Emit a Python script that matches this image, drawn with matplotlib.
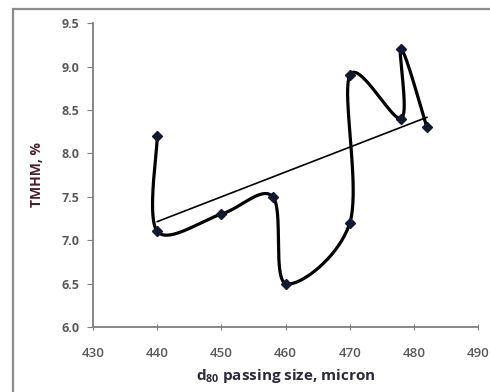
import numpy as np
import matplotlib.pyplot as plt
from matplotlib.patches import Rectangle

plt.rcParams['font.family'] = ['Open Sans', 'DejaVu Sans']
plt.rcParams['mathtext.default'] = 'regular'

# data
d80 = [440, 440, 450, 458, 460, 470, 470, 478, 478, 482]
tmhm = [8.2, 7.1, 7.3, 7.5, 6.5, 7.2, 8.9, 8.4, 9.2, 8.3]
xticks = [430, 440, 450, 460, 470, 480, 490]
yticks = [6.0, 6.5, 7.0, 7.5, 8.0, 8.5, 9.0, 9.5]

fig = plt.figure(figsize=(4.9, 3.92), dpi=100)
ax = fig.add_axes([0.19, 0.166, 0.786, 0.775])
ax.set_xlim(430, 490)
ax.set_ylim(6.0, 9.5)


def smooth(xs, ys, n=40):
    # excel-style smoothed line, bezier through points in screen space
    pts = ax.transData.transform(np.column_stack([xs, ys]))
    p = np.vstack([pts[0], pts, pts[-1]])
    t = np.linspace(0, 1, n)[:, None]
    segs = []
    for i in range(1, len(p) - 2):
        p0, p1, p2, p3 = p[i - 1], p[i], p[i + 1], p[i + 2]
        c1 = p1 + (p2 - p0) / 6
        c2 = p2 - (p3 - p1) / 6
        segs.append((1 - t) ** 3 * p1 + 3 * (1 - t) ** 2 * t * c1
                    + 3 * (1 - t) * t ** 2 * c2 + t ** 3 * p2)
    return ax.transData.inverted().transform(np.vstack(segs))


curve = smooth(d80, tmhm)
ax.plot(curve[:, 0], curve[:, 1], color='black', lw=2.3, solid_capstyle='round', zorder=3)
ax.plot(d80, tmhm, 'D', color='#141a2e', ms=5, zorder=4)

# linear trendline
k, b = np.polyfit(d80, tmhm, 1)
xt = np.array([min(d80), max(d80)])
ax.plot(xt, k * xt + b, color='black', lw=1.2, zorder=2)

for s in ['top', 'right']:
    ax.spines[s].set_visible(False)
for s in ['left', 'bottom']:
    ax.spines[s].set_color('#7f7f7f')
    ax.spines[s].set_linewidth(1.3)

ax.set_xticks(xticks)
ax.set_xticklabels([str(v) for v in xticks], fontweight='semibold')
ax.set_yticks(yticks)
ax.set_yticklabels(['%.1f' % v for v in yticks], fontweight='bold')
ax.tick_params(axis='y', direction='out', length=4, color='#7f7f7f', labelsize=9, labelcolor='#595959', pad=6)
ax.tick_params(axis='x', direction='inout', length=5, color='#7f7f7f', labelsize=9.5, labelcolor='#595959', pad=12)

ax.set_xlabel('d$_{80}$ passing size, micron', fontsize=11, fontweight='bold', color='#2a2a3a', labelpad=5)
ax.set_ylabel('TMHM, %', fontsize=10, fontweight='bold', color='#4a1e2c', labelpad=12)

# chart area border
fig.patches.append(Rectangle((13 / 490, -0.1), 1.0, 0.1 + (392 - 9) / 392, transform=fig.transFigure,
                             fill=False, edgecolor='#8c8c8c', lw=1.6, clip_on=False))

fig.savefig('out.png', dpi=100)
